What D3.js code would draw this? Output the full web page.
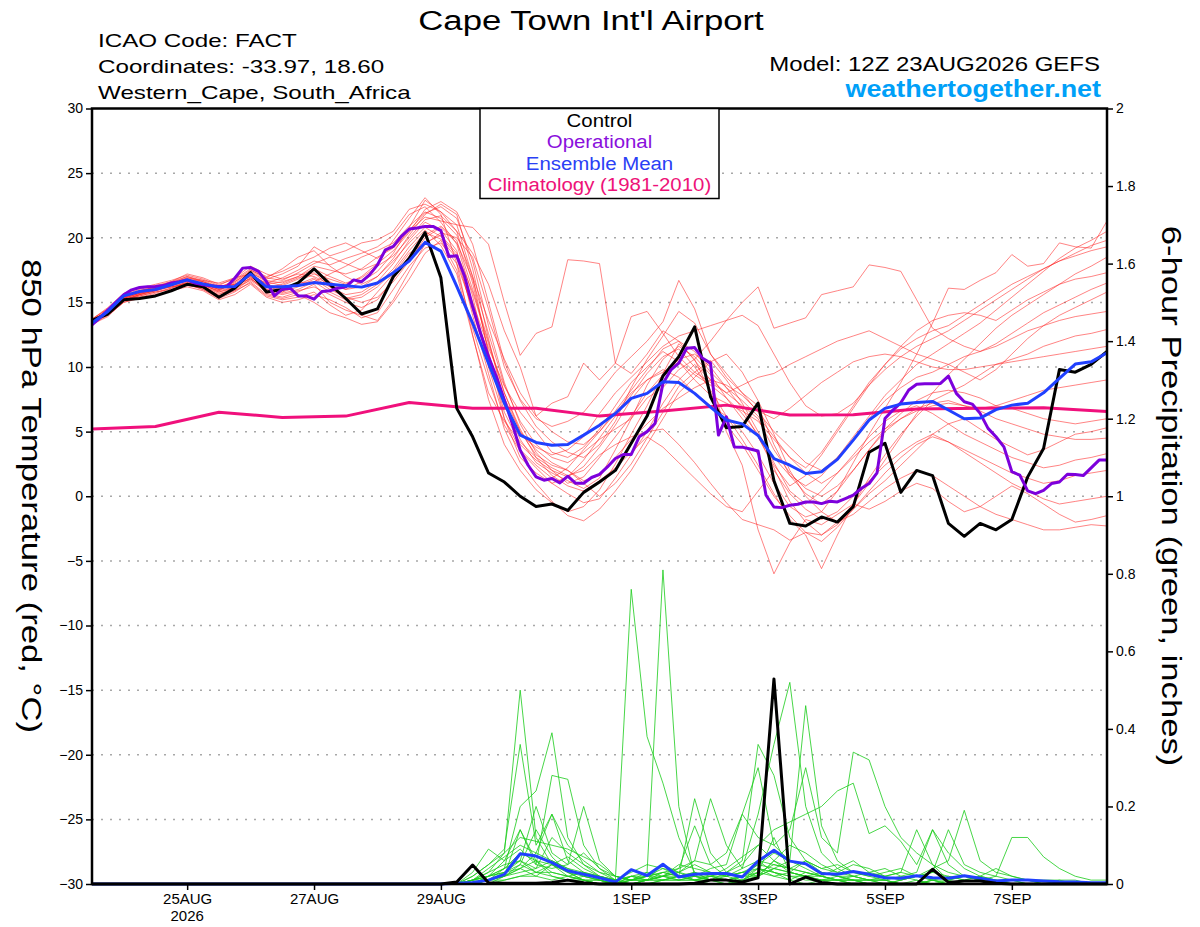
<!DOCTYPE html>
<html>
<head>
<meta charset="utf-8">
<script src="https://cdn.jsdelivr.net/npm/d3@7"></script>
<style>
  body { margin: 0; background: #fff; }
  text { font-family: "Liberation Sans", Arial, Helvetica, sans-serif; }
</style>
</head>
<body>
<div id="chart"></div>
<script>
// ---- data (6-hourly from 12Z 23AUG2026 unless noted) ----
const tickDays   = ["2026-08-25", "2026-08-27", "2026-08-29", "2026-09-01", "2026-09-03", "2026-09-05", "2026-09-07"];
const tempTicks  = [-30, -25, -20, -15, -10, -5, 0, 5, 10, 15, 20, 25, 30];
const gridTemps  = [-25, -20, -15, -10, -5, 0, 5, 10, 15, 20, 25];
const precipTicks = [0, 0.2, 0.4, 0.6, 0.8, 1, 1.2, 1.4, 1.6, 1.8, 2];

const controlTemp = [
  13.6,14.1,15.2,15.3,15.5,15.9,16.4,16.2,15.4,16.1,
  17.3,15.8,16.0,16.5,17.6,16.4,15.3,14.1,14.5,17.0,
  18.4,20.4,16.9,6.8,4.6,1.8,1.1,0.0,-0.8,-0.6,
  -1.1,0.3,1.1,2.0,4.1,6.2,9.3,10.8,13.1,7.7,
  5.3,5.4,7.2,1.2,-2.1,-2.3,-1.6,-2.0,-0.8,3.4,
  4.1,0.3,2.0,1.6,-2.1,-3.1,-2.1,-2.6,-1.8,1.5,
  3.7,9.8,9.6,10.2,11.2];

const meanTemp = [
  13.4,14.3,15.5,15.84,16.0,16.36,16.74,16.43,16.18,16.23,
  17.2,16.2,16.2,16.3,16.53,16.4,16.28,16.18,16.5,17.3,
  18.2,19.64,18.97,16.23,13.4,10.3,7.2,4.73,4.16,3.95,
  4.0,4.73,5.5,6.4,7.57,7.96,8.86,8.8,7.96,6.9,
  5.9,5.6,4.7,2.92,2.4,1.76,1.9,2.85,4.34,5.9,
  6.8,7.13,7.26,7.34,6.67,6.0,6.05,6.7,7.05,7.2,
  8.0,9.12,10.23,10.4,11.1];

// operational run is 3-hourly
const operTemp = [
  13.26,13.8,14.4,15.0,15.58,15.97,16.15,16.2,16.23,16.3,
  16.5,16.6,16.74,16.5,16.36,16.28,16.23,16.23,16.87,17.65,
  17.7,17.4,16.61,15.5,16.02,16.1,15.5,15.5,15.25,15.84,
  15.9,16.1,16.2,16.74,16.6,17.13,17.9,19.07,19.33,20.1,
  20.67,20.75,20.88,20.88,20.55,18.55,18.6,17.0,14.68,12.61,
  10.8,9.25,7.44,5.63,3.57,2.4,1.5,1.24,1.37,1.03,
  1.55,1.0,1.0,1.45,1.7,2.27,2.92,3.23,3.23,4.6,
  5.0,5.63,8.73,9.77,10.3,11.45,11.5,10.67,10.3,4.73,
  6.15,3.82,3.8,3.65,3.5,0.08,-0.83,-0.88,-0.7,-0.62,
  -0.44,-0.44,-0.57,-0.39,-0.44,-0.18,0.08,0.6,0.98,1.81,
  6.02,6.67,7.23,8.22,8.66,8.7,8.7,8.73,9.3,7.96,
  7.31,7.13,6.41,5.25,4.6,3.82,1.9,1.63,0.41,0.2,
  0.46,0.98,1.1,1.7,1.68,1.6,2.2,2.8,2.8];

// climatology is daily at 12Z
const climaTemp = [5.2,5.4,6.5,6.1,6.2,7.25,6.8,6.8,6.2,6.6,7.05,6.28,6.3,6.75,6.8,6.85,6.55];

const tempMembers = [
  [13.6,14.4,15.5,15.8,16.0,16.4,16.8,16.5,16.0,16.5,17.2,16.4,16.6, 17.0,17.8,17.5,17.2,17.6,18.5,19.2,20.5,21.6,21.3, 21.0,20.8,19.5,15.0,10.9,12.6,13.1,18.3,18.2, 18.0,10.3,9.5,11.0,12.8,12.0,10.5,9.0,8.0,8.6,9.2, 9.5,10.2,10.8,11.4,12.0,12.4,12.8,12.2,11.6,11.0,10.6,10.2,9.6,9.0,9.8,11.0,12.2,13.2,14.0,14.6,15.2,15.8],
  [13.4,14.2,15.3,15.9,16.2,16.5,16.9,16.6,16.1,16.4,17.0,16.0,15.8, 16.6,17.2,16.8,16.4,17.0,18.0,19.8,21.5,23.1,21.8, 18.0,12.5,7.5,4.0,2.0,0.5,-0.5,-1.2,-0.8, 0.5,2.5,4.8,7.0,9.5,11.8,10.6,8.0,5.5,4.0,2.0, 0.0,-1.5,-2.8,-3.5,-2.4,-1.0,0.2,1.2,2.4,3.6,4.8,5.6,6.0,5.2,4.4,3.8,3.2,3.6,4.2,4.8,5.0,5.3],
  [13.5,14.0,15.0,15.4,15.7,16.1,16.6,16.3,15.5,16.0,16.9,15.7,15.4, 15.8,16.4,15.0,14.4,14.0,13.6,15.2,17.4,19.5,20.4, 20.0,18.5,14.5,10.0,7.5,6.0,5.4,5.8,6.5, 8.0,9.6,10.8,12.0,13.5,16.7,14.5,11.0,9.5,8.0,6.5, 5.0,3.8,2.6,2.0,3.0,4.6,6.2,7.8,9.0,10.2,11.0,11.8,12.6,13.4,14.4,15.4,16.4,17.4,18.4,19.2,19.8,20.5],
  [13.7,14.5,15.6,16.0,16.3,16.6,17.0,16.7,16.2,16.6,17.4,16.8,17.2, 17.8,19.3,18.6,19.0,19.6,19.85,20.5,22.2,22.6,22.0, 21.0,17.0,11.0,6.5,4.0,2.8,2.0,1.5,2.3, 3.8,5.5,7.5,9.0,9.8,9.2,8.0,7.0,6.2,5.0,3.2, 1.0,-0.8,-1.6,-1.2,0.4,2.6,4.8,6.8,8.8,11.0,13.4,16.1,16.0,16.7,17.3,18.7,17.8,18.0,19.6,19.3,19.2,21.3],
  [13.3,13.9,15.1,15.6,15.9,16.2,16.4,16.0,15.3,15.8,16.6,15.6,15.3, 15.6,15.0,14.2,13.8,13.3,13.5,15.0,16.8,18.8,19.8, 17.5,13.0,9.0,5.5,3.5,2.2,1.0,0.2,-0.5, -0.2,1.4,3.2,5.0,7.2,9.0,10.2,9.0,5.0,2.4,-2.6, -6.0,-3.6,-1.8,-2.2,-1.4,-0.6,-1.0,-0.4,0.4,1.0,0.6,-0.4,-1.2,-0.8,0.0,0.8,0.2,-0.6,-1.4,-2.0,-1.8,-1.5],
  [13.6,14.3,15.4,15.7,16.1,16.3,16.7,16.4,16.0,16.3,17.1,16.5,16.9, 17.5,18.2,17.9,18.4,18.8,19.3,20.2,21.8,22.4,21.2, 19.5,15.5,10.0,6.0,3.0,1.8,1.0,1.5,2.8, 4.5,6.2,7.8,9.5,10.8,11.4,10.0,8.2,6.2,4.4,2.4, 0.2,-1.8,-3.0,-5.6,-3.0,-0.6,1.4,3.2,4.8,6.2,7.4,8.0,8.6,9.4,10.2,10.6,11.0,11.6,12.0,12.4,12.6,12.9],
  [13.5,14.2,15.2,15.5,15.8,16.0,16.3,16.1,15.6,16.2,17.5,16.9,17.6, 18.5,19.0,17.8,17.0,16.4,17.0,18.2,19.6,20.8,20.1, 18.6,15.0,11.5,8.5,6.5,5.0,3.4,3.0,3.8, 5.2,7.0,8.8,10.0,11.2,10.4,9.0,7.8,7.2,6.6,5.8, 4.4,3.0,2.2,3.4,5.2,7.0,8.8,10.2,11.4,12.2,12.8,13.2,14.0,14.8,15.6,16.4,17.0,17.6,18.2,18.6,19.0,19.3],
  [13.4,14.1,15.2,15.6,16.0,16.3,16.5,16.2,15.8,16.1,16.7,15.9,15.6, 15.9,16.2,15.6,15.0,14.6,15.2,16.8,18.6,20.2,20.9, 19.8,16.0,12.0,8.0,5.0,3.2,2.4,2.0,1.0, 0.0,1.0,2.5,4.5,6.5,8.5,9.6,10.5,9.0,7.2,5.0, 2.6,0.4,-0.6,0.4,1.8,3.2,4.6,5.8,6.6,7.0,6.4,5.6,4.8,4.2,3.6,3.0,2.6,2.2,2.4,2.8,3.0,3.3],
  [13.6,14.4,15.4,15.9,16.2,16.6,17.2,16.9,16.4,16.8,17.6,17.0,17.4, 18.0,18.5,19.2,19.6,19.0,18.4,19.4,20.6,21.9,22.4, 21.5,18.2,13.2,8.8,5.6,3.4,2.0,1.0,1.5, 3.0,4.6,6.2,8.0,9.4,10.6,11.0,10.0,8.4,6.8,4.6, 2.4,0.8,1.6,3.2,5.0,6.8,8.6,10.2,11.6,12.8,13.6,14.0,14.2,14.0,13.6,14.4,15.2,15.8,16.4,16.8,17.0,17.3],
  [13.5,14.3,15.3,15.7,16.0,16.2,16.4,16.0,15.4,15.9,16.5,15.5,15.2, 15.4,15.8,14.8,14.0,14.4,15.8,17.2,18.8,19.6,20.2, 18.8,15.8,11.8,8.0,5.2,3.0,1.6,0.8,0.4, 1.2,2.2,3.4,4.6,3.8,2.6,1.4,0.2,-0.8,-1.2,0.4, 2.0,0.2,-1.0,-1.8,-1.2,0.0,1.2,2.4,3.4,4.2,4.8,4.2,3.4,2.6,1.8,1.0,0.4,-0.2,-0.6,-0.4,-0.2,0.0],
  [13.7,14.6,15.7,16.1,16.4,16.7,17.1,16.8,16.3,16.9,17.8,17.2,16.8, 17.2,17.0,16.4,16.0,16.6,17.4,18.8,20.8,22.9,22.0, 20.5,16.5,11.2,6.0,3.6,2.4,1.4,2.2,3.6, 5.0,6.4,8.0,9.0,9.6,10.4,9.4,8.6,7.6,6.4,4.8, 3.0,1.6,0.8,1.6,3.0,4.4,6.0,7.4,8.4,9.2,9.6,10.2,10.8,11.2,11.6,12.2,12.8,13.2,13.6,13.9,14.1,14.3],
  [13.3,14.0,15.0,15.3,15.6,15.9,16.2,15.9,15.2,15.6,16.4,15.4,15.0, 15.2,15.6,15.2,14.6,13.8,14.2,16.0,17.8,19.2,19.6, 18.0,14.6,11.0,7.6,5.0,3.6,2.6,2.0,1.2, 1.6,3.0,4.4,5.6,6.8,7.6,8.4,9.0,8.6,7.8,6.6, 6.0,6.8,7.8,8.8,9.6,10.4,10.8,11.0,10.8,10.4,10.0,9.8,9.8,10.0,10.2,10.4,10.6,10.8,11.0,11.2,11.4,11.6],
  [13.5,14.2,15.3,15.7,16.0,16.4,16.8,16.6,16.2,16.4,17.0,16.2,16.0, 16.4,16.9,16.2,15.6,15.8,16.6,18.0,19.8,21.2,20.6, 19.0,14.0,9.5,5.2,2.6,1.0,-0.4,-1.5,-1.9, -1.0,0.4,2.0,4.0,6.0,8.0,9.2,10.4,11.0,9.6,7.4, 4.8,2.0,0.0,-1.2,-2.0,-1.4,-0.4,0.6,1.4,2.0,1.6,0.8,0.0,-0.8,-1.4,-1.8,-2.2,-2.6,-2.6,-2.4,-2.2,-2.3],
  [13.6,14.3,15.5,15.9,16.1,16.5,16.6,16.3,15.9,16.6,17.3,16.6,16.3, 16.8,17.6,17.0,16.5,16.9,17.8,18.6,20.0,21.4,21.7, 20.5,18.8,16.4,12.8,10.0,6.2,7.2,7.7,10.3, 9.0,10.3,13.9,14.3,12.6,10.8,9.6,8.8,8.0,7.0,6.0, 3.6,1.8,0.6,0.0,0.8,2.0,3.6,5.2,6.4,7.4,8.0,8.2,8.0,7.6,7.0,6.8,6.4,6.0,5.8,5.6,5.8,6.0],
  [13.4,14.1,15.1,15.5,15.8,16.1,16.5,16.2,15.7,15.9,16.8,16.1,16.4, 16.9,17.3,16.2,15.3,15.6,16.4,17.6,19.3,20.6,19.4, 17.2,12.4,8.0,5.8,4.2,3.0,2.2,1.6,2.0, 3.2,4.0,4.6,5.0,5.2,4.0,2.6,1.0,-0.5,-1.8,-2.2, -2.6,-3.4,-2.8,-3.0,-2.0,-0.6,1.0,2.8,4.6,6.4,8.0,9.4,10.6,11.8,13.0,14.0,14.8,15.6,16.4,17.2,17.8,18.5],
  [13.5,14.4,15.4,15.8,16.1,16.4,16.9,16.7,16.5,16.9,17.2,16.4,16.1, 16.5,16.6,17.2,17.8,18.5,19.0,19.6,20.9,22.0,21.5, 20.2,17.0,13.6,10.6,8.0,6.2,5.0,4.2,4.0, 5.0,6.6,8.2,9.8,11.4,12.0,11.2,9.6,8.4,7.4,6.2, 4.6,3.0,1.8,1.0,1.8,3.0,4.2,5.2,6.0,6.6,7.0,7.2,7.0,6.8,7.0,7.4,7.8,8.2,8.4,8.6,8.8,9.0],
  [13.6,14.2,15.2,15.6,15.9,16.3,16.7,16.4,15.8,16.2,16.9,16.3,15.8, 16.2,16.8,16.0,15.4,15.0,15.4,16.6,18.2,20.0,20.8, 19.6,16.8,12.6,8.6,5.8,4.0,3.0,2.6,3.4, 4.4,5.2,6.0,7.6,8.4,9.8,10.6,12.0,13.6,15.0,16.2, 13.0,13.4,13.8,15.6,15.9,16.2,17.9,17.7,17.4,15.2,13.0,12.2,11.6,11.2,11.8,12.6,13.4,14.2,14.8,15.4,16.0,16.5],
  [13.4,14.3,15.3,15.7,16.0,16.2,16.5,16.3,15.9,16.2,17.3,16.7,16.5, 17.0,17.6,16.6,16.0,16.2,17.0,18.4,20.2,21.8,22.6, 21.8,17.6,12.2,7.2,4.4,2.6,1.8,1.2,0.6, 1.4,3.6,6.0,8.6,10.6,11.6,10.8,9.4,7.6,6.0,4.6, 2.2,-0.4,-2.0,-3.0,-2.2,-1.0,0.4,1.8,3.0,4.0,4.6,4.2,3.6,3.0,2.4,1.8,1.4,1.0,1.2,1.6,1.8,2.0],
  [13.5,14.1,15.2,15.6,15.9,16.3,16.7,16.4,16.0,16.4,16.8,16.0,15.7, 16.0,16.6,15.8,15.2,15.4,16.2,17.4,19.0,20.4,19.9, 18.4,14.4,10.4,7.0,4.8,3.8,3.2,3.6,4.6, 6.4,8.0,9.2,10.4,11.6,12.4,12.8,13.2,13.6,14.0,13.2, 11.0,8.8,7.0,6.2,6.4,7.2,8.6,9.8,10.8,11.6,12.2,12.8,13.6,14.4,15.2,16.0,16.8,17.6,18.2,18.8,19.4,19.8],
  [13.7,14.5,15.5,15.8,16.2,16.5,17.0,16.6,16.1,16.7,17.5,16.9,16.7, 17.3,18.0,18.5,18.0,17.5,18.0,19.0,20.4,22.2,22.8, 22.0,19.5,15.0,10.4,7.4,5.4,4.2,3.4,3.0, 4.0,5.8,8.4,10.6,12.4,14.3,13.4,11.0,9.2,8.0,7.0, 4.0,1.6,0.2,-0.6,0.4,2.0,3.6,5.0,6.0,6.8,7.2,7.4,7.0,6.6,6.0,5.6,5.2,4.8,4.6,4.4,4.4,4.5]
];

const controlPrecip = [
  0,0,0,0,0,0,0,0,0,0, 0,0,0,0,0,0,0,0,0,0,
  0,0,0,0.005,0.049,0.003,0.002,0.002,0.002,0.004,
  0.01,0.003,0,0,0,0,0,0,0.002,0.01,
  0.01,0.005,0.016,0.529,0,0.018,0.004,0,0,0,
  0,0,0,0.038,0.004,0.008,0.008,0.002,0,0,
  0,0,0,0,0];

const meanPrecip = [
  0,0,0,0,0,0,0,0,0,0, 0,0,0,0,0,0,0,0,0,0,
  0,0,0,0.002,0.004,0.01,0.025,0.078,0.072,0.055,
  0.034,0.025,0.016,0.005,0.037,0.022,0.051,0.018,0.025,0.027,
  0.027,0.018,0.059,0.087,0.059,0.052,0.027,0.025,0.032,0.025,
  0.016,0.015,0.021,0.016,0.015,0.021,0.015,0.008,0.01,0.01,
  0.008,0.006,0.005,0.003,0.003];

const z20 = [0,0,0,0,0,0,0,0,0,0, 0,0,0,0,0,0,0,0,0,0];
const precipMembers = [
  z20.concat([0,0,0,0,0.01,0.03,0.08,0.50,0.12,0.05, 0.02,0.01,0,0,0.02,0.01,0.03,0.02,0.01,0, 0,0.01,0.04,0.02,0.01,0.03,0.02,0.01,0,0, 0,0,0,0.01,0,0,0,0,0,0, 0,0,0,0,0]),
  z20.concat([0,0,0,0,0.01,0.02,0.04,0.06,0.03,0.05, 0.03,0.01,0,0.01,0.76,0.38,0.26,0.12,0.03,0.01, 0,0.02,0.06,0.03,0.01,0,0.01,0,0,0, 0,0,0,0,0,0,0,0,0,0, 0,0,0,0,0]),
  z20.concat([0,0,0,0,0.02,0.05,0.09,0.36,0.10,0.18, 0.06,0.03,0.01,0,0.02,0.03,0.81,0.20,0.02,0.01, 0.03,0.05,0.10,0.06,0.03,0.02,0.01,0.01,0,0, 0,0,0.01,0,0,0,0,0,0,0, 0,0,0,0,0]),
  z20.concat([0,0,0,0,0,0.01,0.04,0.20,0.24,0.39, 0.12,0.05,0.02,0.01,0.03,0.05,0.04,0.02,0.22,0.08, 0.03,0.06,0.36,0.28,0.12,0.06,0.03,0.02,0.01,0, 0,0,0,0,0,0,0,0,0,0, 0,0,0,0,0]),
  z20.concat([0,0,0,0,0.03,0.09,0.06,0.14,0.05,0.28, 0.27,0.10,0.04,0.01,0.02,0.01,0.05,0.03,0.06,0.22, 0.10,0.04,0.18,0.36,0.52,0.20,0.08,0.04,0.02,0.01, 0,0,0,0,0,0,0,0,0,0, 0,0,0,0,0]),
  z20.concat([0,0,0,0,0,0.02,0.03,0.06,0.20,0.08, 0.05,0.20,0.06,0.02,0.01,0.02,0.03,0.04,0.15,0.05, 0.08,0.18,0.30,0.10,0.06,0.46,0.15,0.06,0.03,0.02, 0.01,0,0,0,0,0,0,0,0,0, 0,0,0,0,0]),
  z20.concat([0,0,0,0,0.01,0.04,0.07,0.10,0.08,0.18, 0.10,0.06,0.03,0.01,0.02,0.02,0.04,0.03,0.02,0.04, 0.05,0.18,0.12,0.10,0.14,0.30,0.12,0.08,0.34,0.32, 0.20,0.12,0.08,0.05,0.03,0.02,0.01,0,0,0, 0,0,0,0,0]),
  z20.concat([0,0,0,0,0.02,0.05,0.08,0.12,0.11,0.10, 0.09,0.07,0.05,0.02,0.01,0.02,0.01,0.02,0.03,0.02, 0.04,0.07,0.10,0.14,0.16,0.18,0.20,0.24,0.26,0.13, 0.15,0.11,0.05,0.14,0.08,0.04,0.02,0.01,0,0, 0,0,0,0,0]),
  z20.concat([0,0,0,0,0,0.01,0.02,0.04,0.06,0.03, 0.02,0.01,0,0,0.01,0.01,0.02,0.03,0.05,0.03, 0.02,0.04,0.06,0.05,0.04,0.06,0.04,0.03,0.05,0.04, 0.02,0.03,0.14,0.05,0.01,0.02,0.01,0,0.01,0, 0,0,0,0,0]),
  z20.concat([0,0,0,0,0.01,0.03,0.05,0.06,0.04,0.12, 0.08,0.05,0.03,0.02,0.01,0.02,0.02,0.04,0.06,0.05, 0.02,0.03,0.05,0.04,0.03,0.02,0.03,0.02,0.02,0.03, 0.04,0.02,0.03,0.14,0.05,0.02,0.01,0.02,0.01,0, 0,0,0,0,0]),
  z20.concat([0,0,0,0,0,0.02,0.04,0.08,0.06,0.05, 0.07,0.04,0.02,0.01,0,0.01,0.02,0.01,0.02,0.01, 0.02,0.01,0.03,0.02,0.03,0.06,0.04,0.05,0.03,0.02, 0.03,0.04,0.02,0.03,0.14,0.05,0.03,0.02,0.12,0.12, 0.07,0.04,0.02,0.01,0.01]),
  z20.concat([0,0,0,0,0,0.01,0.03,0.05,0.14,0.07, 0.03,0.02,0.01,0,0.01,0.01,0.01,0.02,0.01,0.02, 0.01,0.02,0.04,0.03,0.02,0.02,0.01,0.01,0.02,0.01, 0.02,0.03,0.02,0.04,0.06,0.19,0.06,0.03,0.02,0.01, 0,0,0,0,0]),
  z20.concat([0,0,0,0,0.01,0.02,0.06,0.09,0.05,0.04, 0.05,0.08,0.04,0.02,0.01,0.02,0.03,0.02,0.01,0.01, 0.01,0.02,0.02,0.04,0.06,0.04,0.02,0.01,0.01,0, 0,0.01,0.02,0.01,0.02,0.01,0.02,0.04,0.02,0.01, 0,0.01,0,0,0]),
  z20.concat([0,0,0,0,0,0.01,0.02,0.03,0.04,0.06, 0.04,0.02,0.01,0,0,0.01,0.02,0.05,0.04,0.03, 0.02,0.03,0.04,0.03,0.02,0.01,0.01,0.02,0.01,0.01, 0.01,0.02,0.01,0,0.01,0.02,0.01,0,0,0, 0,0,0,0,0]),
  z20.concat([0,0,0,0,0,0,0.02,0.05,0.03,0.02, 0.01,0.02,0.01,0,0,0,0.01,0.02,0.03,0.01, 0,0.01,0.02,0.06,0.10,0.08,0.05,0.03,0.02,0.01, 0.01,0,0,0.01,0,0,0,0,0,0, 0,0,0,0,0]),
  z20.concat([0,0,0,0,0,0.01,0.01,0.02,0.03,0.03, 0.02,0.01,0.01,0,0.01,0.03,0.02,0.01,0.01,0.02, 0.03,0.02,0.05,0.08,0.06,0.05,0.03,0.02,0.01,0.01, 0,0.01,0.02,0.01,0,0,0,0.01,0,0, 0,0,0,0,0]),
  z20.concat([0,0,0,0,0.01,0.01,0.02,0.14,0.06,0.02, 0.01,0.01,0,0,0,0.01,0.01,0.01,0.02,0.01, 0.01,0,0.02,0.04,0.03,0.02,0.01,0.01,0,0, 0,0,0,0,0,0,0,0,0,0, 0,0,0,0,0]),
  z20.concat([0,0,0,0,0,0,0.01,0.02,0.02,0.05, 0.03,0.01,0.01,0,0,0,0.01,0.01,0.01,0.02, 0.02,0.03,0.02,0.06,0.04,0.03,0.02,0.04,0.06,0.03, 0.02,0.01,0.02,0.03,0.02,0.01,0.02,0.01,0.01,0.01, 0.01,0.01,0.01,0,0]),
  z20.concat([0,0,0,0,0.01,0.02,0.03,0.04,0.02,0.01, 0.02,0.03,0.02,0.01,0,0.01,0.02,0.03,0.01,0.01, 0.01,0.01,0.03,0.05,0.04,0.03,0.02,0.01,0.01,0.01, 0.01,0,0,0.01,0.01,0,0,0,0,0, 0,0,0,0,0]),
  z20.concat([0,0,0,0,0,0.01,0.02,0.04,0.08,0.06, 0.04,0.03,0.02,0.01,0.01,0.01,0.02,0.02,0.02,0.02, 0.01,0.02,0.03,0.12,0.03,0.02,0.02,0.01,0.01,0, 0,0,0,0,0,0,0,0,0,0, 0,0,0,0,0])
];

// ---- layout ----
const W = 1200, H = 927;
const plot = {left: 92, right: 1107, top: 108.5, bottom: 884};

const svg = d3.select("#chart").append("svg")
    .attr("width", W).attr("height", H)
    .style("background", "#fff");

const t0 = Date.UTC(2026, 7, 23, 12);
const timeAt = (i, stepH) => new Date(t0 + i * stepH * 3600e3);

const x = d3.scaleUtc()
    .domain([timeAt(0, 6), timeAt(64, 6)])
    .range([plot.left, plot.right]);
const yT = d3.scaleLinear().domain([-30, 30]).range([plot.bottom, plot.top]);
const yP = d3.scaleLinear().domain([0, 2]).range([plot.bottom, plot.top]);

// dotted grid on the temperature scale
svg.append("g").selectAll("line")
    .data(gridTemps)
    .enter().append("line")
    .attr("x1", plot.left).attr("x2", plot.right)
    .attr("y1", d => yT(d)).attr("y2", d => yT(d))
    .attr("stroke", "#a8a8a8").attr("stroke-width", 1.5)
    .attr("stroke-dasharray", "2,7");

function drawSeries(values, stepH, yScale, color, width, opacity) {
    const line = d3.line()
        .x((d, i) => x(timeAt(i, stepH)))
        .y(d => yScale(d));
    svg.append("path")
        .datum(values)
        .attr("fill", "none")
        .attr("stroke", color)
        .attr("stroke-width", width)
        .attr("stroke-opacity", opacity)
        .attr("stroke-linejoin", "round")
        .attr("d", line);
}

// ensemble members
tempMembers.forEach(m => drawSeries(m, 6, yT, "#ff2020", 0.9, 0.62));
precipMembers.forEach(m => drawSeries(m, 6, yP, "#1ccc1c", 0.9, 0.9));

// main lines
drawSeries(climaTemp, 24, yT, "#f0107c", 3, 1);
drawSeries(controlTemp, 6, yT, "#000000", 3, 1);
drawSeries(operTemp, 3, yT, "#7d00dc", 3, 1);
drawSeries(meanTemp, 6, yT, "#2040ff", 3, 1);
drawSeries(meanPrecip, 6, yP, "#2040ff", 3, 1);
drawSeries(controlPrecip, 6, yP, "#000000", 3, 1);

// frame
svg.append("rect")
    .attr("x", plot.left).attr("y", plot.top)
    .attr("width", plot.right - plot.left).attr("height", plot.bottom - plot.top)
    .attr("fill", "none").attr("stroke", "#000").attr("stroke-width", 2.5);

// axes
const parseDay = d3.utcParse("%Y-%m-%d");
const dayFmt = d3.utcFormat("%-d%b");

const xAxis = svg.append("g")
    .attr("transform", `translate(0,${plot.bottom})`)
    .call(d3.axisBottom(x)
        .tickValues(tickDays.map(parseDay))
        .tickFormat(d => dayFmt(d).toUpperCase())
        .tickSize(6).tickPadding(3));

const yAxisL = svg.append("g")
    .attr("transform", `translate(${plot.left},0)`)
    .call(d3.axisLeft(yT).tickValues(tempTicks).tickSize(6).tickPadding(3));

const yAxisR = svg.append("g")
    .attr("transform", `translate(${plot.right},0)`)
    .call(d3.axisRight(yP).tickValues(precipTicks).tickFormat(d3.format("~g")).tickSize(6).tickPadding(3));

[xAxis, yAxisL, yAxisR].forEach(a => {
    a.select(".domain").remove();
    a.selectAll(".tick line").attr("stroke", "#000").attr("stroke-width", 1.5);
    a.selectAll(".tick text").attr("fill", "#000")
        .style("font-family", "'Liberation Sans', Arial, sans-serif");
});
xAxis.selectAll(".tick text").style("font-size", "15px");
yAxisL.selectAll(".tick text").style("font-size", "14px");
yAxisR.selectAll(".tick text").style("font-size", "14px");

// year under the first date label
svg.append("text")
    .attr("x", x(parseDay(tickDays[0]))).attr("y", 921)
    .attr("text-anchor", "middle").style("font-size", "15px")
    .text("2026");

// text drawn with a horizontal stretch, like the wide font of the original
function wideText(str, tx, ty, size, sx, anchor, opts = {}) {
    const rot = opts.rotate ? ` rotate(${opts.rotate})` : "";
    return svg.append("text")
        .attr("transform", `translate(${tx},${ty})${rot} scale(${sx},1)`)
        .attr("text-anchor", anchor)
        .style("font-size", size + "px")
        .style("font-weight", opts.bold ? "bold" : "normal")
        .attr("fill", opts.color || "#000")
        .text(str);
}

// legend box
const legend = {x: 480, y: plot.top, w: 239, h: 90};
svg.append("rect")
    .attr("x", legend.x).attr("y", legend.y)
    .attr("width", legend.w).attr("height", legend.h)
    .attr("fill", "#fff").attr("stroke", "#000").attr("stroke-width", 1.5);

const legendItems = [
    {label: "Control", color: "#000000"},
    {label: "Operational", color: "#8a10dc"},
    {label: "Ensemble Mean", color: "#2a40f5"},
    {label: "Climatology (1981-2010)", color: "#ee1278"}
];
legendItems.forEach((d, i) => {
    wideText(d.label, legend.x + legend.w / 2, 126.5 + i * 21.6, 17.6, 1.16, "middle", {color: d.color});
});

// titles and header
wideText("Cape Town Int'l Airport", 591, 30, 28, 1.24, "middle");
wideText("ICAO Code: FACT", 98, 47, 18.6, 1.3, "start");
wideText("Coordinates: -33.97, 18.60", 98, 73, 18.6, 1.3, "start");
wideText("Western_Cape, South_Africa", 98, 99, 18.6, 1.3, "start");
wideText("Model: 12Z 23AUG2026 GEFS", 1100, 71, 20, 1.2, "end");
wideText("weathertogether.net", 1101, 97, 23, 1.17, "end", {bold: true, color: "#00a0f8"});

// axis titles, reading top to bottom
wideText("850 hPa Temperature (red, °C)", 22, 496, 28, 1.24, "middle", {rotate: 90});
wideText("6-hour Precipitation (green, inches)", 1162, 496, 28, 1.236, "middle", {rotate: 90});
</script>
</body>
</html>
